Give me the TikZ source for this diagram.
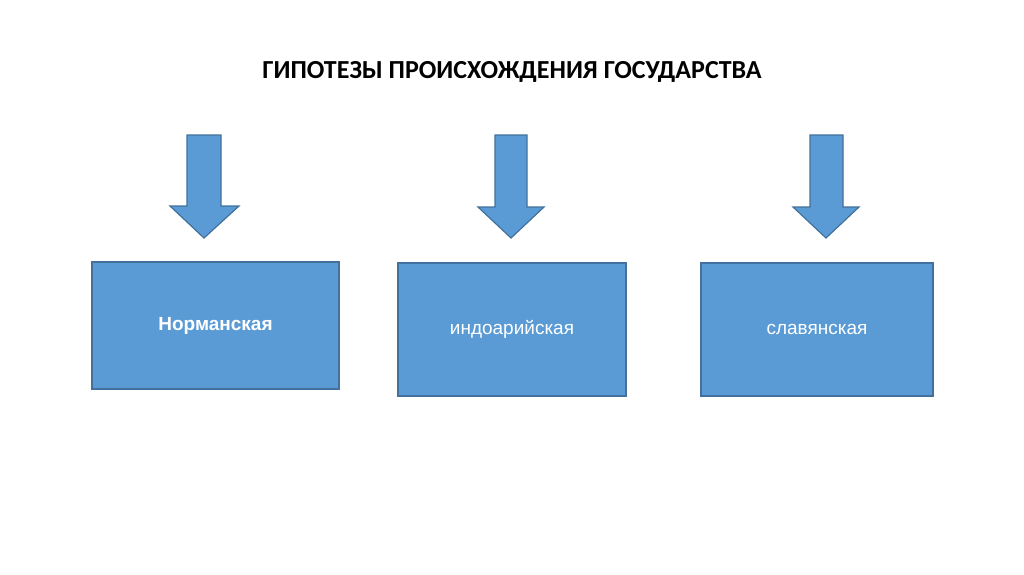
\documentclass[tikz,border=0pt]{standalone}
\usepackage{fontspec}
\setmainfont{Liberation Sans}
\newfontfamily\titlefont{Carlito}
\definecolor{boxfill}{HTML}{5B9BD5}
\definecolor{boxline}{HTML}{41719C}
\tikzset{
  hypbox/.style={draw=boxline, fill=boxfill, line width=1.2pt, text=white, font=\fontsize{19}{21}\selectfont, inner sep=0pt},
  downarrow/.style={draw=boxline, fill=boxfill, line width=1.2pt, line join=miter}
}
\begin{document}
\begin{tikzpicture}[x=1pt,y=-1pt]
\useasboundingbox (0,0) rectangle (1024,574);
\fill[white] (0,0) rectangle (1024,574);
\node[font=\titlefont\bfseries\fontsize{26}{30}\selectfont] (title) at (512,72) {ГИПОТЕЗЫ ПРОИСХОЖДЕНИЯ ГОСУДАРСТВА};
% boxes
\node[hypbox, minimum width=247pt, minimum height=127pt, font=\bfseries\fontsize{19}{21}\selectfont] (b1) at (215.5,325.5) {Норманская};
\node[hypbox, minimum width=228pt, minimum height=133pt] (b2) at (512,329.5) {индоарийская};
\node[hypbox, minimum width=232pt, minimum height=133pt] (b3) at (817,329.5) {славянская};
% arrows
\draw[downarrow] (187,135) -- (221,135) -- (221,206) -- (239,206) -- (204,238) -- (170,206) -- (187,206) -- cycle;
\draw[downarrow] (495,135) -- (527,135) -- (527,207) -- (544,207) -- (511,238) -- (478,207) -- (495,207) -- cycle;
\draw[downarrow] (810,135) -- (843,135) -- (843,207) -- (859,207) -- (826,238) -- (793,207) -- (810,207) -- cycle;
\end{tikzpicture}
\end{document}
